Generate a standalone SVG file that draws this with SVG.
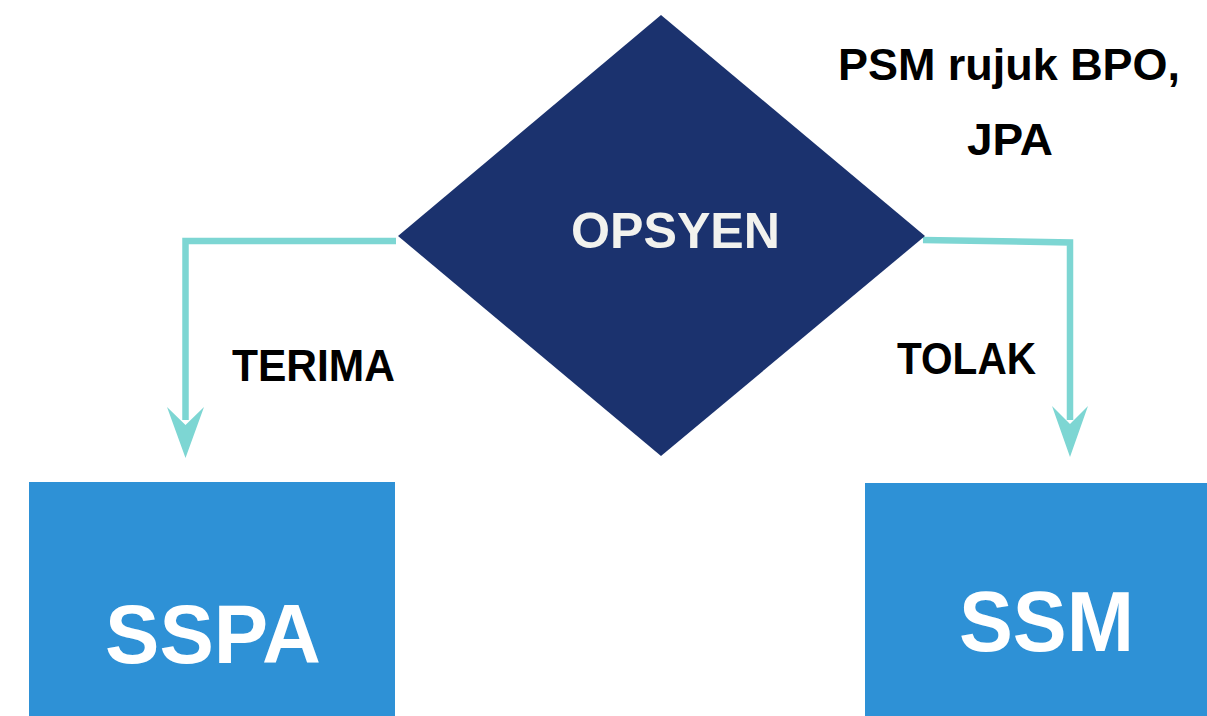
<svg xmlns="http://www.w3.org/2000/svg" width="1207" height="716" viewBox="0 0 1207 716">
<style>
.lbl{font-family:"Liberation Sans",Arial,sans-serif;font-weight:700;fill:#000000}
.big{font-family:"Liberation Sans",Arial,sans-serif;font-weight:700;fill:#ffffff}
.conn{fill:none;stroke:#7dd6d3;stroke-width:6.5;stroke-linejoin:miter}
.head{fill:#7dd6d3}
.box{fill:#2e91d6}
</style>
<rect width="1207" height="716" fill="#ffffff"/>
<g id="connectors">
<polyline class="conn" points="396,241 185.5,241 185.5,420"/>
<path class="head" d="M167,407 L185.5,458 L204,407 L185.5,425 Z"/>
<polyline class="conn" points="923,240 1070,242.5 1070,420"/>
<path class="head" d="M1052,406 L1070,457 L1088,406 L1070,424 Z"/>
</g>
<g id="node-opsyen">
<polygon points="661,15 925,236 661,456 398,236" fill="#1b326e"/>
<text x="675.5" y="248" class="big" font-size="50" fill="#f2f2ee" style="fill:#f2f2ee" text-anchor="middle" textLength="209" lengthAdjust="spacingAndGlyphs">OPSYEN</text>
</g>
<g id="node-sspa">
<rect class="box" x="29" y="482" width="366" height="234"/>
<text x="213" y="663" class="big" font-size="84" text-anchor="middle" textLength="216" lengthAdjust="spacingAndGlyphs">SSPA</text>
</g>
<g id="node-ssm">
<rect class="box" x="865" y="483" width="342" height="233"/>
<text x="1046.5" y="651" class="big" font-size="85" text-anchor="middle" textLength="175" lengthAdjust="spacingAndGlyphs">SSM</text>
</g>
<g id="label-terima">
<text x="313.5" y="381" class="lbl" font-size="44" text-anchor="middle" textLength="163" lengthAdjust="spacingAndGlyphs">TERIMA</text>
</g>
<g id="label-tolak">
<text x="966.5" y="374" class="lbl" font-size="44" text-anchor="middle" textLength="139" lengthAdjust="spacingAndGlyphs">TOLAK</text>
</g>
<g id="label-psm">
<text x="1009" y="80" class="lbl" font-size="44" text-anchor="middle" textLength="342" lengthAdjust="spacingAndGlyphs">PSM rujuk BPO,</text>
<text x="1010" y="155" class="lbl" font-size="44" text-anchor="middle" textLength="86" lengthAdjust="spacingAndGlyphs">JPA</text>
</g>
</svg>
